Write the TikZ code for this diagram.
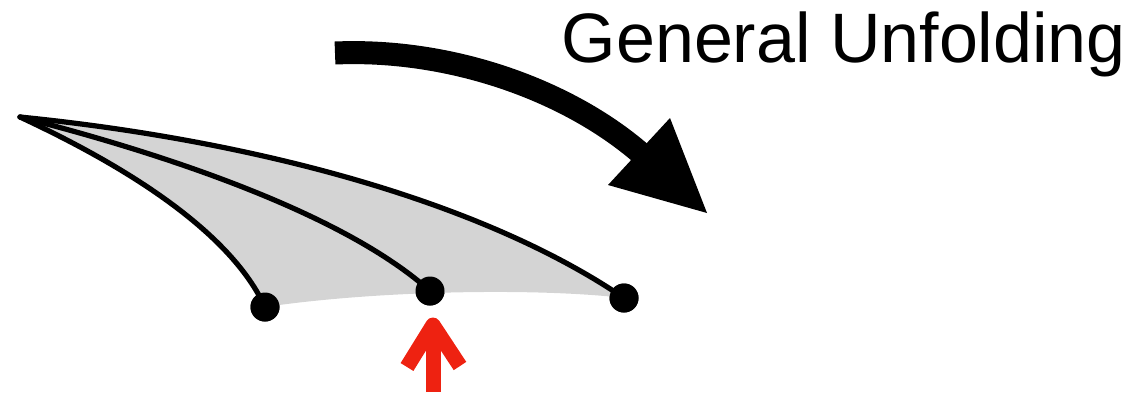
\documentclass[tikz,border=0pt]{standalone}
\usepackage{fontspec}
\setmainfont{Liberation Sans}
\definecolor{sheet}{RGB}{212,212,212}
\definecolor{pointer}{RGB}{238,34,17}
\tikzset{
  crease/.style={line width=5.2pt, line cap=round},
  vertexdot/.style={circle, fill=black, inner sep=0pt, minimum size=29pt},
  bigarrow/.style={line width=23pt},
  redpointer/.style={pointer, line width=15pt},
}
\begin{document}
\begin{tikzpicture}[x=1pt,y=-1pt]
\useasboundingbox (0,0) rectangle (1130,392);

% apex and the three hinge vertices
\coordinate (apex) at (20,117);
\node[vertexdot] (vl) at (265,307) {};
\node[vertexdot] (vm) at (430,291) {};
\node[vertexdot] (vr) at (624,298) {};

% shaded surface
\fill[sheet] (apex.center) .. controls (250,140) and (480,200) .. (vr.center)
  .. controls (540,288) and (380,290) .. (vl.center)
  .. controls (225,220) and (95,152) .. (apex.center);

% creases from the apex
\draw[crease] (apex) .. controls (95,152) and (225,220) .. (vl.center);
\draw[crease] (apex) .. controls (150,150) and (340,210) .. (vm.center);
\draw[crease] (apex) .. controls (250,140) and (480,200) .. (vr.center);

% redraw vertices on top
\node[vertexdot] at (vl) {};
\node[vertexdot] at (vm) {};
\node[vertexdot] at (vr) {};

% curved unfolding arrow
\coordinate (arrS) at (335,53);
\coordinate (arrE) at (645,157);
\coordinate (tipA) at (670,118);
\coordinate (tipB) at (608,185);
\coordinate (tipC) at (707,213);
\draw[bigarrow] (arrS) .. controls (450,48) and (570,90) .. (arrE);
\fill (tipA) -- (tipC) -- (tipB) -- cycle;

% label
\node[anchor=base west, inner sep=0pt, font=\fontsize{70}{84}\selectfont] (label) at (561.5,62) {General Unfolding};

% red pointer to the middle vertex
\coordinate (pbase) at (433,392);
\coordinate (ptip) at (433,325);
\coordinate (pwl) at (407,367);
\coordinate (pwr) at (460,366);
\draw[redpointer] (pbase) -- (433,330);
\draw[redpointer, line join=round] (pwl) -- (ptip) -- (pwr);
\end{tikzpicture}
\end{document}
